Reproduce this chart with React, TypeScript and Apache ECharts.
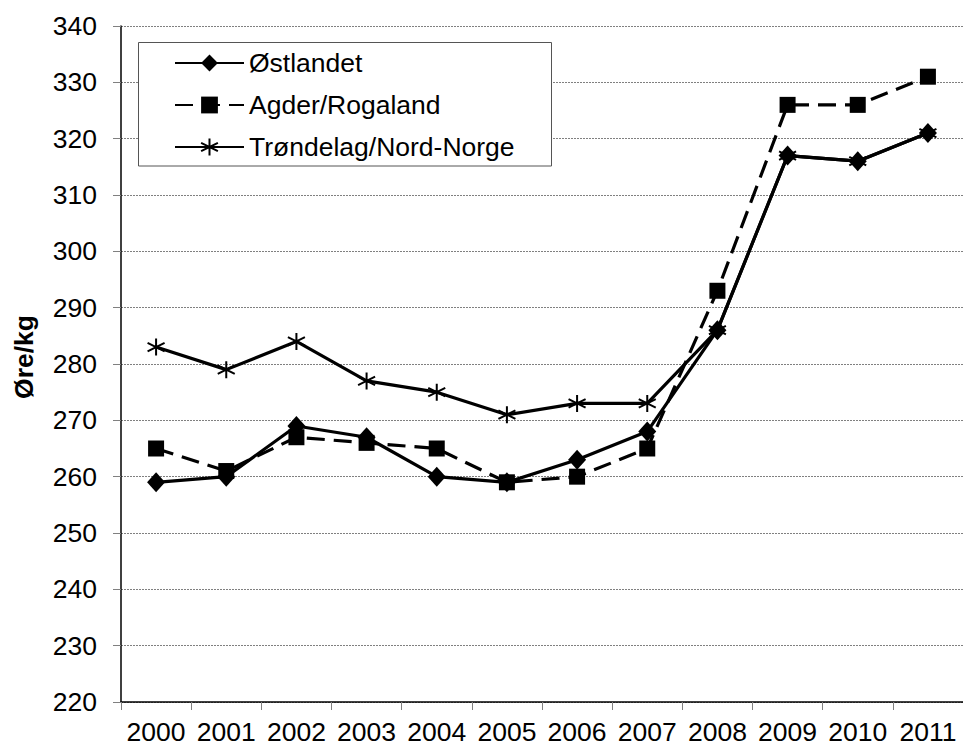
import React, { useEffect, useRef } from "react";
import * as echarts from "echarts";

const years = ["2000", "2001", "2002", "2003", "2004", "2005", "2006", "2007", "2008", "2009", "2010", "2011"];
const ostlandet = [259, 260, 269, 267, 260, 259, 263, 268, 286, 317, 316, 321];
const agder = [265, 261, 267, 266, 265, 259, 260, 265, 293, 326, 326, 331];
const trondelag = [283, 279, 284, 277, 275, 271, 273, 273, 286, 317, 316, 321];
const seriesNames = ["Østlandet", "Agder/Rogaland", "Trøndelag/Nord-Norge"];
const yAxisName = "Øre/kg";

const FONT = "'Liberation Sans', Arial, sans-serif";
const ASTERISK = "path://M10 0 L10 20 M1.34 5 L18.66 15 M1.34 15 L18.66 5";

export default function App() {
  const ref = useRef<HTMLDivElement>(null);
  useEffect(() => {
    const chart = echarts.init(ref.current!, null, { renderer: "svg" });
    chart.setOption({
      animation: false,
      backgroundColor: "#ffffff",
      textStyle: { fontFamily: FONT },
      grid: { left: 121, top: 26, right: -6, bottom: 45 },
      graphic: [
        {
          type: "rect",
          z: 3,
          shape: { x: 138.5, y: 42.5, width: 413, height: 123.5 },
          style: { fill: "#ffffff", stroke: "#555555", lineWidth: 1 },
        },
      ],
      legend: {
        z: 5,
        orient: "vertical",
        left: 174,
        top: 48,
        padding: 0,
        itemWidth: 69,
        itemHeight: 21,
        itemGap: 12,
        textStyle: { fontFamily: FONT, fontSize: 26.5, color: "#000", lineHeight: 30, padding: [0, 0, 0, 0] },
        data: seriesNames,
      },
      xAxis: {
        type: "category",
        data: years,
        boundaryGap: true,
        axisLine: { lineStyle: { color: "#000", width: 1.5 } },
        axisTick: { show: true, length: 8, inside: false, lineStyle: { color: "#808080" } },
        axisLabel: { fontFamily: FONT, fontSize: 26.5, color: "#000", margin: 16, interval: 0 },
        splitLine: { show: false },
      },
      yAxis: {
        type: "value",
        min: 220,
        max: 340,
        interval: 10,
        name: yAxisName,
        nameLocation: "middle",
        nameGap: 84,
        nameRotate: 90,
        nameTextStyle: { fontFamily: FONT, fontSize: 26.5, fontWeight: "bold", color: "#000", padding: [0, 0, 0, 14] },
        axisLine: { show: true, lineStyle: { color: "#000", width: 1.5 } },
        axisTick: { show: true, length: 8, lineStyle: { color: "#808080" } },
        axisLabel: { fontFamily: FONT, fontSize: 26.5, color: "#000", margin: 24 },
        splitLine: { show: true, lineStyle: { color: "#808080", type: [2, 1], width: 1 } },
      },
      series: [
        {
          name: seriesNames[0],
          type: "line",
          data: ostlandet,
          symbol: "diamond",
          symbolSize: [18, 20],
          lineStyle: { color: "#000", width: 3.2, type: "solid" },
          itemStyle: { color: "#000" },
          z: 3,
        },
        {
          name: seriesNames[1],
          type: "line",
          data: agder,
          symbol: "rect",
          symbolSize: 16,
          lineStyle: { color: "#000", width: 3.2, type: [18, 9] },
          itemStyle: { color: "#000" },
          z: 2,
        },
        {
          name: seriesNames[2],
          type: "line",
          data: trondelag,
          symbol: ASTERISK,
          symbolSize: [17, 17],
          lineStyle: { color: "#000", width: 3.2, type: "solid" },
          itemStyle: { color: "#000", borderColor: "#000", borderWidth: 2 },
          z: 4,
        },
      ],
    });
    return () => chart.dispose();
  }, []);
  return <div ref={ref} style={{ position: "fixed", left: 0, top: 0, width: 963, height: 747 }} />;
}
